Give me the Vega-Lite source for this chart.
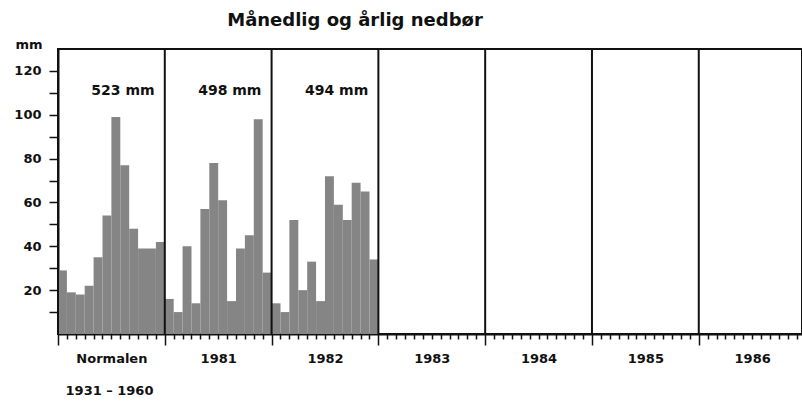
{
  "$schema": "https://vega.github.io/schema/vega-lite/v6.json",
  "width": 744,
  "height": 285,
  "autosize": {"type": "none"},
  "padding": {"left": 58, "top": 49, "right": 0, "bottom": 69},
  "background": "white",
  "title": {
    "text": "Månedlig og årlig nedbør",
    "anchor": "middle",
    "frame": "group",
    "dx": -75,
    "offset": -6,
    "baseline": "alphabetic",
    "font": "DejaVu Sans",
    "fontSize": 18,
    "fontWeight": "bold",
    "color": "#111"
  },
  "config": {
    "view": {"stroke": "#111", "strokeWidth": 2},
    "axis": {"domainColor": "#111", "tickColor": "#111", "labelColor": "#111", "titleColor": "#111", "labelFont": "DejaVu Sans", "titleFont": "DejaVu Sans", "labelFontWeight": "bold", "titleFontWeight": "bold"}
  },
  "datasets": {
    "bars": [
      {"period": "Normalen", "month": 1, "i": 0, "mm": 29},
      {"period": "Normalen", "month": 2, "i": 1, "mm": 19},
      {"period": "Normalen", "month": 3, "i": 2, "mm": 18},
      {"period": "Normalen", "month": 4, "i": 3, "mm": 22},
      {"period": "Normalen", "month": 5, "i": 4, "mm": 35},
      {"period": "Normalen", "month": 6, "i": 5, "mm": 54},
      {"period": "Normalen", "month": 7, "i": 6, "mm": 99},
      {"period": "Normalen", "month": 8, "i": 7, "mm": 77},
      {"period": "Normalen", "month": 9, "i": 8, "mm": 48},
      {"period": "Normalen", "month": 10, "i": 9, "mm": 39},
      {"period": "Normalen", "month": 11, "i": 10, "mm": 39},
      {"period": "Normalen", "month": 12, "i": 11, "mm": 42},
      {"period": "1981", "month": 1, "i": 12, "mm": 16},
      {"period": "1981", "month": 2, "i": 13, "mm": 10},
      {"period": "1981", "month": 3, "i": 14, "mm": 40},
      {"period": "1981", "month": 4, "i": 15, "mm": 14},
      {"period": "1981", "month": 5, "i": 16, "mm": 57},
      {"period": "1981", "month": 6, "i": 17, "mm": 78},
      {"period": "1981", "month": 7, "i": 18, "mm": 61},
      {"period": "1981", "month": 8, "i": 19, "mm": 15},
      {"period": "1981", "month": 9, "i": 20, "mm": 39},
      {"period": "1981", "month": 10, "i": 21, "mm": 45},
      {"period": "1981", "month": 11, "i": 22, "mm": 98},
      {"period": "1981", "month": 12, "i": 23, "mm": 28},
      {"period": "1982", "month": 1, "i": 24, "mm": 14},
      {"period": "1982", "month": 2, "i": 25, "mm": 10},
      {"period": "1982", "month": 3, "i": 26, "mm": 52},
      {"period": "1982", "month": 4, "i": 27, "mm": 20},
      {"period": "1982", "month": 5, "i": 28, "mm": 33},
      {"period": "1982", "month": 6, "i": 29, "mm": 15},
      {"period": "1982", "month": 7, "i": 30, "mm": 72},
      {"period": "1982", "month": 8, "i": 31, "mm": 59},
      {"period": "1982", "month": 9, "i": 32, "mm": 52},
      {"period": "1982", "month": 10, "i": 33, "mm": 69},
      {"period": "1982", "month": 11, "i": 34, "mm": 65},
      {"period": "1982", "month": 12, "i": 35, "mm": 34}
    ],
    "periods": [
      {"period": "Normalen", "i": 0, "total": 523},
      {"period": "1981", "i": 12, "total": 498},
      {"period": "1982", "i": 24, "total": 494},
      {"period": "1983", "i": 36, "total": null},
      {"period": "1984", "i": 48, "total": null},
      {"period": "1985", "i": 60, "total": null},
      {"period": "1986", "i": 72, "total": null}
    ]
  },
  "encoding": {
    "x": {
      "field": "i", "type": "quantitative",
      "scale": {"domain": [0, 83.6], "nice": false, "zero": false, "padding": 0},
      "axis": {
        "title": "1931 – 1960",
        "titleX": 51,
        "titleY": 60,
        "titleAlign": "center",
        "titleBaseline": "alphabetic",
        "titleFontSize": 13,
        "grid": false,
        "values": [0,1,2,3,4,5,6,7,8,9,10,11,12,13,14,15,16,17,18,19,20,21,22,23,24,25,26,27,28,29,30,31,32,33,34,35,36,37,38,39,40,41,42,43,44,45,46,47,48,49,50,51,52,53,54,55,56,57,58,59,60,61,62,63,64,65,66,67,68,69,70,71,72,73,74,75,76,77,78,79,80,81,82,83],
        "labelExpr": "datum.value === 6 ? 'Normalen' : datum.value === 18 ? '1981' : datum.value === 30 ? '1982' : datum.value === 42 ? '1983' : datum.value === 54 ? '1984' : datum.value === 66 ? '1985' : datum.value === 78 ? '1986' : ''",
        "labelOverlap": false,
        "labelFlush": false,
        "labelBaseline": "top",
        "labelPadding": 13,
        "labelFontSize": 13,
        "tickSize": {"condition": {"test": "datum.value % 12 === 0", "value": 11}, "value": 5},
        "tickWidth": 1.5,
        "domainWidth": 2
      }
    }
  },
  "layer": [
    {
      "data": {"name": "bars"},
      "transform": [{"calculate": "datum.i + 1", "as": "i_end"}],
      "mark": {"type": "bar", "fill": "#858585", "stroke": null, "opacity": 1, "orient": "vertical"},
      "encoding": {
        "x2": {"field": "i_end"},
        "y": {
          "field": "mm", "type": "quantitative",
          "scale": {"domain": [0, 130], "nice": false, "padding": 0},
          "axis": {
            "title": "mm",
            "titleAngle": 0,
            "titleX": -16,
            "titleY": -1,
            "titleAlign": "right",
            "titleBaseline": "alphabetic",
            "titleFontSize": 13,
            "grid": false,
            "values": [10,20,30,40,50,60,70,80,90,100,110,120],
            "labelExpr": "datum.value % 20 === 0 ? datum.label : ''",
            "labelOverlap": false,
            "labelFlush": false,
            "labelFontSize": 13,
            "labelPadding": 8,
            "tickSize": 9,
            "tickWidth": 1.5,
            "domainWidth": 2
          }
        },
        "y2": {"datum": 0}
      }
    },
    {
      "data": {"name": "periods"},
      "mark": {"type": "rule", "color": "#111", "strokeWidth": 2},
      "encoding": {}
    },
    {
      "data": {"name": "periods"},
      "transform": [
        {"filter": "datum.total != null"},
        {"calculate": "datum.total + ' mm'", "as": "label"}
      ],
      "mark": {"type": "text", "dx": 65, "dy": -97, "align": "center", "baseline": "alphabetic", "font": "DejaVu Sans", "fontWeight": "bold", "fontSize": 14, "color": "#111"},
      "encoding": {
        "text": {"field": "label"}
      }
    }
  ]
}
